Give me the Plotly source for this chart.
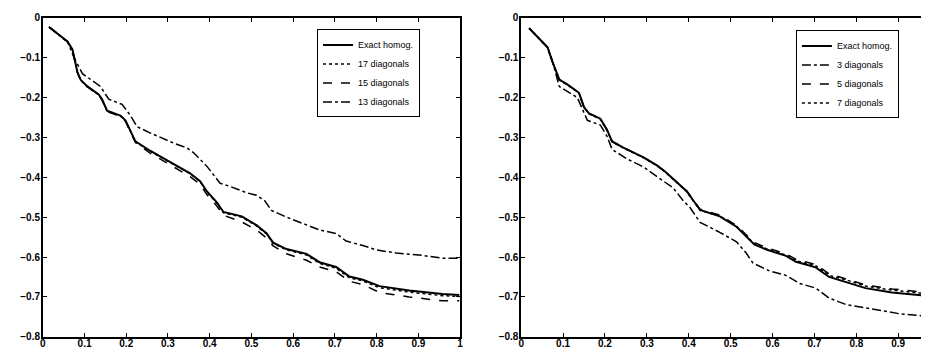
import plotly.graph_objects as go

# ---------------- Left panel data ----------------
L_exact_x = [0.015, 0.059, 0.071, 0.083, 0.091, 0.107, 0.134, 0.142, 0.154, 0.186, 0.198, 0.222, 0.258,
             0.313, 0.353, 0.377, 0.393, 0.417, 0.433, 0.477, 0.512, 0.536, 0.552, 0.584, 0.632, 0.663,
             0.703, 0.735, 0.767, 0.807, 0.878, 0.958, 0.998]
L_exact_y = [-0.023, -0.059, -0.079, -0.136, -0.156, -0.172, -0.192, -0.204, -0.233, -0.245, -0.257, -0.310, -0.334,
             -0.366, -0.390, -0.410, -0.435, -0.463, -0.487, -0.498, -0.520, -0.540, -0.564, -0.580, -0.592, -0.613,
             -0.625, -0.649, -0.657, -0.673, -0.684, -0.693, -0.695]
L_d17_y = [-0.023, -0.060, -0.080, -0.137, -0.157, -0.173, -0.193, -0.205, -0.234, -0.246, -0.258, -0.311, -0.335,
           -0.367, -0.391, -0.411, -0.436, -0.465, -0.489, -0.500, -0.522, -0.542, -0.566, -0.582, -0.595, -0.616,
           -0.628, -0.652, -0.660, -0.677, -0.688, -0.697, -0.699]
L_d15_y = [-0.023, -0.060, -0.080, -0.137, -0.157, -0.173, -0.193, -0.206, -0.235, -0.247, -0.259, -0.313, -0.340,
           -0.374, -0.398, -0.418, -0.443, -0.472, -0.495, -0.512, -0.532, -0.552, -0.572, -0.592, -0.608, -0.625,
           -0.637, -0.661, -0.669, -0.689, -0.700, -0.710, -0.710]
L_d13_x = [0.015, 0.059, 0.075, 0.095, 0.138, 0.158, 0.190, 0.210, 0.226, 0.258, 0.313, 0.345, 0.361, 0.393,
           0.425, 0.449, 0.489, 0.512, 0.532, 0.548, 0.584, 0.640, 0.663, 0.703, 0.727, 0.767, 0.799, 0.847,
           0.910, 0.958, 0.998]
L_d13_y = [-0.023, -0.059, -0.100, -0.140, -0.172, -0.204, -0.217, -0.245, -0.273, -0.289, -0.314, -0.326, -0.338,
           -0.372, -0.415, -0.423, -0.439, -0.445, -0.459, -0.483, -0.500, -0.522, -0.532, -0.541, -0.560, -0.571,
           -0.582, -0.590, -0.596, -0.603, -0.603]

# ---------------- Right panel data ----------------
R_exact_x = [0.019, 0.063, 0.075, 0.091, 0.110, 0.138, 0.150, 0.162, 0.189, 0.205, 0.217, 0.245, 0.292, 0.324,
             0.344, 0.371, 0.395, 0.427, 0.474, 0.514, 0.537, 0.557, 0.585, 0.632, 0.656, 0.703, 0.735, 0.775,
             0.822, 0.885, 0.949, 0.984]
R_exact_y = [-0.026, -0.074, -0.111, -0.155, -0.167, -0.188, -0.224, -0.240, -0.253, -0.281, -0.310, -0.326, -0.350,
             -0.370, -0.386, -0.411, -0.435, -0.482, -0.498, -0.524, -0.549, -0.569, -0.581, -0.597, -0.612, -0.626,
             -0.650, -0.662, -0.678, -0.689, -0.696, -0.699]
R_d7_y = [-0.026, -0.074, -0.111, -0.156, -0.168, -0.189, -0.225, -0.241, -0.254, -0.282, -0.311, -0.327, -0.351,
          -0.371, -0.387, -0.412, -0.436, -0.483, -0.497, -0.523, -0.547, -0.567, -0.579, -0.595, -0.609, -0.622,
          -0.646, -0.657, -0.673, -0.683, -0.690, -0.692]
R_d5_y = [-0.026, -0.074, -0.111, -0.155, -0.167, -0.188, -0.224, -0.240, -0.253, -0.281, -0.310, -0.326, -0.350,
          -0.370, -0.386, -0.411, -0.434, -0.480, -0.495, -0.521, -0.545, -0.564, -0.576, -0.592, -0.606, -0.619,
          -0.642, -0.655, -0.670, -0.680, -0.687, -0.687]
R_d3_x = [0.019, 0.063, 0.075, 0.091, 0.134, 0.146, 0.158, 0.189, 0.205, 0.217, 0.253, 0.292, 0.332, 0.363,
          0.387, 0.403, 0.427, 0.474, 0.514, 0.537, 0.553, 0.593, 0.632, 0.664, 0.703, 0.735, 0.775, 0.838,
          0.901, 0.984]
R_d3_y = [-0.026, -0.074, -0.111, -0.172, -0.200, -0.229, -0.257, -0.269, -0.297, -0.330, -0.354, -0.374, -0.403,
          -0.427, -0.459, -0.476, -0.513, -0.538, -0.562, -0.590, -0.615, -0.635, -0.646, -0.666, -0.678, -0.703,
          -0.719, -0.731, -0.742, -0.750]

# ---------------- Tick labels ----------------
L_xticks = [0, 0.1, 0.2, 0.3, 0.4, 0.5, 0.6, 0.7, 0.8, 0.9, 1]
L_xtext = ["0", "0.1", "0.2", "0.3", "0.4", "0.5", "0.6", "0.7", "0.8", "0.9", "1"]
R_xticks = [0, 0.1, 0.2, 0.3, 0.4, 0.5, 0.6, 0.7, 0.8, 0.9]
R_xtext = ["0", "0.1", "0.2", "0.3", "0.4", "0.5", "0.6", "0.7", "0.8", "0.9"]
yticks = [0, -0.1, -0.2, -0.3, -0.4, -0.5, -0.6, -0.7, -0.8]
ytext = ["0", "\u22120.1", "\u22120.2", "\u22120.3", "\u22120.4", "\u22120.5", "\u22120.6", "\u22120.7", "\u22120.8"]

W, H = 929, 356
FONT = "Liberation Sans"

fig = go.Figure()

def add(x, y, name, dash, width, xa, ya, legend):
    fig.add_trace(go.Scatter(x=x, y=y, mode="lines", name=name,
                             line=dict(color="black", dash=dash, width=width),
                             xaxis=xa, yaxis=ya, legend=legend))

# left
add(L_exact_x, L_exact_y, "Exact homog.", "solid", 2, "x", "y", "legend")
add(L_exact_x, L_d17_y, "17 diagonals", "dot", 1.5, "x", "y", "legend")
add(L_exact_x, L_d15_y, "15 diagonals", "dash", 1.5, "x", "y", "legend")
add(L_d13_x, L_d13_y, "13 diagonals", "dashdot", 1.5, "x", "y", "legend")
# right
add(R_exact_x, R_exact_y, "Exact homog.", "solid", 2, "x2", "y2", "legend2")
add(R_d3_x, R_d3_y, "3 diagonals", "dashdot", 1.5, "x2", "y2", "legend2")
add(R_exact_x, R_d5_y, "5 diagonals", "dash", 1.5, "x2", "y2", "legend2")
add(R_exact_x, R_d7_y, "7 diagonals", "dot", 1.5, "x2", "y2", "legend2")

ydom = [1 - 334 / H, 1 - 4 / H]
axis_common = dict(showgrid=False, zeroline=False, showline=True, linecolor="black", linewidth=1.5,
                   mirror="ticks", ticks="inside", ticklen=4, tickwidth=1, tickcolor="black",
                   ticklabeloverflow="allow",
                   tickfont=dict(family=FONT, size=10, color="black", weight="bold"))

fig.update_layout(
    width=W, height=H,
    margin=dict(l=0, r=0, t=0, b=0),
    paper_bgcolor="white", plot_bgcolor="white",
    font=dict(family=FONT, color="black"),
    xaxis=dict(domain=[32 / W, 452 / W], range=[0, 1], tickvals=L_xticks, ticktext=L_xtext,
               anchor="y", ticklabelstandoff=-3, **axis_common),
    yaxis=dict(domain=ydom, range=[-0.8, 0], tickvals=yticks, ticktext=ytext, anchor="x",
               ticklabelstandoff=-1, **axis_common),
    xaxis2=dict(domain=[513.5 / W, 928 / W], range=[0, 0.983], tickvals=R_xticks, ticktext=R_xtext,
                anchor="y2", ticklabelstandoff=-3, **axis_common),
    yaxis2=dict(domain=ydom, range=[-0.8, 0], tickvals=yticks, ticktext=ytext, anchor="x2",
                ticklabelstandoff=-1, **axis_common),
    legend=dict(x=308 / W, y=1 - 16 / H, xanchor="left", yanchor="top", bgcolor="white",
                bordercolor="black", borderwidth=1, font=dict(family=FONT, size=9, color="black"),
                tracegroupgap=0),
    legend2=dict(x=790 / W, y=1 - 17 / H, xanchor="left", yanchor="top", bgcolor="white",
                 bordercolor="black", borderwidth=1, font=dict(family=FONT, size=9, color="black"),
                 tracegroupgap=0),
    showlegend=True,
)

fig.write_html("out.html")
